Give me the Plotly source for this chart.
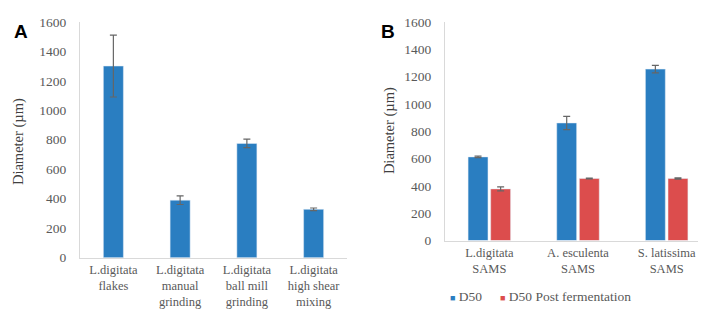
import plotly.graph_objects as go

# Panel A data
cats_a = ["L.digitata<br>flakes", "L.digitata<br>manual<br>grinding",
          "L.digitata<br>ball mill<br>grinding", "L.digitata<br>high shear<br>mixing"]
vals_a = [1300, 390, 775, 328]
err_a = [210, 29, 29, 9]

# Panel B data
cats_b = ["L.digitata<br>SAMS", "A. esculenta<br>SAMS", "S. latissima<br>SAMS"]
series_b = ["D50", "D50 Post fermentation"]
d50 = [612, 860, 1254]
d50_err = [6, 48, 28]
d50_post = [378, 454, 454]
d50_post_err = [14, 3, 5]

y_ticks = [0, 200, 400, 600, 800, 1000, 1200, 1400, 1600]

BLUE = "#2a7ec1"
RED = "#dc4d4d"
GREY = "#595959"
AXIS = "#d9d9d9"
SERIF = "Liberation Serif"

fig = go.Figure()

err_style = dict(type="data", color="#666666", thickness=1.2, width=3.5, visible=True)

fig.add_trace(go.Bar(x=cats_a, y=vals_a, marker_color=BLUE, width=0.3,
                     error_y=dict(array=err_a, **err_style),
                     showlegend=False, xaxis="x", yaxis="y"))

fig.add_trace(go.Bar(x=cats_b, y=d50, name=series_b[0], marker_color=BLUE,
                     error_y=dict(array=d50_err, **err_style), showlegend=False,
                     xaxis="x2", yaxis="y2"))
fig.add_trace(go.Bar(x=cats_b, y=d50_post, name=series_b[1], marker_color=RED,
                     error_y=dict(array=d50_post_err, **err_style), showlegend=False,
                     xaxis="x2", yaxis="y2"))

W, H = 706, 311

def px_x(p):
    return p / W

def px_y(p):
    return 1 - p / H

line_common = dict(showgrid=False, zeroline=False, showline=True, linecolor=AXIS, linewidth=1, ticks="")
y_font = dict(family=SERIF, size=13.5, color=GREY)
x_font = dict(family=SERIF, size=12.5, color=GREY)

legend_font = dict(family=SERIF, size=13.5, color=GREY)

def legend_label(color, text):
    return f"<span style='color:{color};font-size:9px'>■</span> {text}"

fig.update_layout(
    width=W, height=H,
    margin=dict(l=0, r=0, t=0, b=0),
    paper_bgcolor="white", plot_bgcolor="white",
    barmode="group", bargap=0.49, bargroupgap=0.12,
    font=dict(family=SERIF, color=GREY),
    showlegend=False,
    xaxis=dict(domain=[px_x(72), px_x(339)], anchor="y", tickfont=x_font, **line_common),
    yaxis=dict(domain=[px_y(255), px_y(7)], anchor="x", range=[0, 1601], tickfont=y_font,
               tickvals=y_ticks, ticklabelstandoff=10, ticklabeloverflow="allow", **line_common),
    xaxis2=dict(domain=[px_x(437), px_x(703)], anchor="y2", tickfont=x_font, **line_common),
    yaxis2=dict(domain=[px_y(237), px_y(7)], anchor="x2", range=[0, 1601], tickfont=y_font,
                tickvals=y_ticks, ticklabelstandoff=10, ticklabeloverflow="allow", **line_common),
    annotations=[
        dict(text="Diameter (µm)", textangle=-90, x=0, y=px_y(133), xref="paper", yref="paper",
             xanchor="left", yanchor="middle",
             showarrow=False, font=dict(family=SERIF, size=14.5, color="#404040")),
        dict(text="Diameter (µm)", textangle=-90, x=px_x(381), y=px_y(122), xref="paper", yref="paper",
             xanchor="center", yanchor="middle",
             showarrow=False, font=dict(family=SERIF, size=14.5, color="#404040")),
        dict(text="<b>A</b>", x=px_x(4), y=px_y(4), xref="paper", yref="paper", xanchor="left", yanchor="top",
             showarrow=False, font=dict(family="Liberation Sans", size=19, color="black")),
        dict(text="<b>B</b>", x=px_x(371), y=px_y(4), xref="paper", yref="paper", xanchor="left", yanchor="top",
             showarrow=False, font=dict(family="Liberation Sans", size=19, color="black")),
        dict(text=legend_label(BLUE, series_b[0]), x=px_x(440), y=px_y(296), xref="paper", yref="paper",
             xanchor="left", yanchor="middle", showarrow=False, font=legend_font),
        dict(text=legend_label(RED, series_b[1]), x=px_x(490), y=px_y(296), xref="paper", yref="paper",
             xanchor="left", yanchor="middle", showarrow=False, font=legend_font),
    ],
)

fig.write_html("out.html")
